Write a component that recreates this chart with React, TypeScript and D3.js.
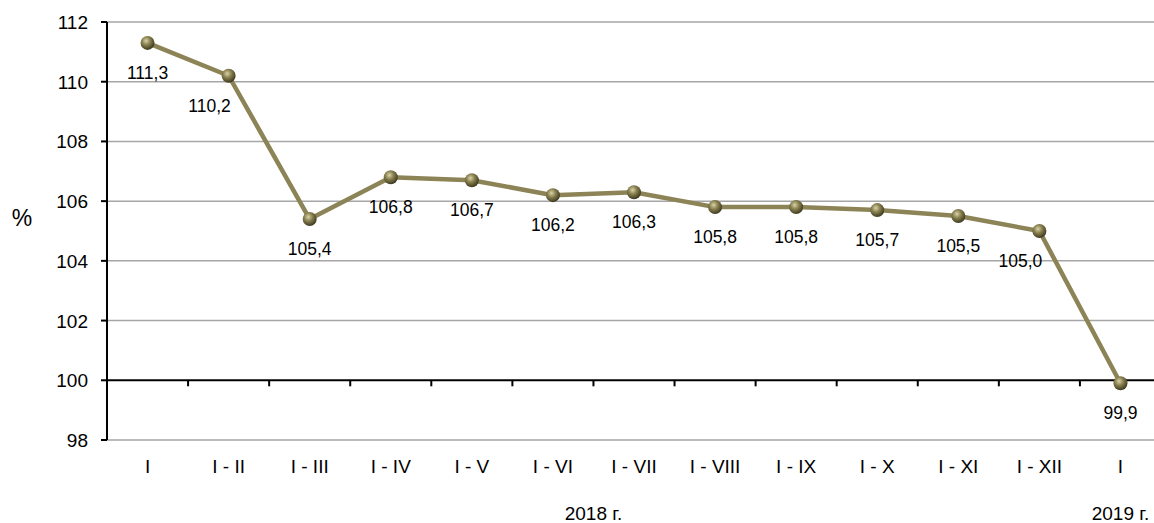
import React from "react";
import * as d3 from "d3";

const width = 1154;
const height = 523;

const categories = ["I", "I - II", "I - III", "I - IV", "I - V", "I - VI", "I - VII", "I - VIII", "I - IX", "I - X", "I - XI", "I - XII", "I "];
const values = [111.3, 110.2, 105.4, 106.8, 106.7, 106.2, 106.3, 105.8, 105.8, 105.7, 105.5, 105.0, 99.9];
const yTicks = [98, 100, 102, 104, 106, 108, 110, 112];
const yearLabels = [
  { text: "2018 г.", from: 0, to: 11 },
  { text: "2019 г.", from: 12, to: 12 },
];

const margin = { top: 22, right: -7, bottom: 83, left: 107 };
const font = "'Liberation Sans', Arial, sans-serif";
const lineColor = "#8c8456";

const App = () => {
  const x = d3
    .scaleBand()
    .domain(categories)
    .range([margin.left, width - margin.right]);
  const y = d3
    .scaleLinear()
    .domain([98, 112])
    .range([height - margin.bottom, margin.top]);

  const cx = (i) => x(categories[i]) + x.bandwidth() / 2;
  const line = d3
    .line()
    .x((d, i) => cx(i))
    .y((d) => y(d));

  const fmt = (v) => v.toFixed(1).replace(".", ",");
  const baseY = y(100);

  return (
    <svg width={width} height={height} style={{ position: "absolute", left: 0, top: 0 }}>
      <defs>
        <radialGradient id="ball" cx="40%" cy="35%" r="65%">
          <stop offset="0%" stopColor="#d9d3a8" />
          <stop offset="45%" stopColor="#8a8150" />
          <stop offset="100%" stopColor="#3e3a20" />
        </radialGradient>
      </defs>

      {yTicks.map((t) => (
        <g key={t}>
          {t !== 100 && (
            <line x1={margin.left} x2={width} y1={y(t)} y2={y(t)} stroke="#a6a6a6" strokeWidth={1.5} />
          )}
          <line x1={margin.left - 6} x2={margin.left} y1={y(t)} y2={y(t)} stroke="#000" strokeWidth={2} />
          <text x={margin.left - 19} y={y(t) + 7} textAnchor="end" fontFamily={font} fontSize={19}>
            {t}
          </text>
        </g>
      ))}

      <line x1={margin.left} x2={width} y1={baseY} y2={baseY} stroke="#000" strokeWidth={2} />
      {categories.slice(1).map((c) => (
        <line key={c} x1={x(c)} x2={x(c)} y1={baseY} y2={baseY + 6} stroke="#000" strokeWidth={2} />
      ))}
      <line x1={margin.left} x2={margin.left} y1={y(112)} y2={y(98)} stroke="#000" strokeWidth={2} />

      {categories.map((c, i) => (
        <text key={c} x={cx(i)} y={y(98) + 33} textAnchor="middle" fontFamily={font} fontSize={19}>
          {c.trim()}
        </text>
      ))}

      {yearLabels.map((g) => (
        <text
          key={g.text}
          x={(cx(g.from) + cx(g.to)) / 2}
          y={height - 3}
          textAnchor="middle"
          fontFamily={font}
          fontSize={19}
        >
          {g.text}
        </text>
      ))}

      <text x={22} y={y(106) + 25} textAnchor="middle" fontFamily={font} fontSize={23}>
        %
      </text>

      <path d={line(values)} fill="none" stroke={lineColor} strokeWidth={4.5} strokeLinejoin="round" />

      {values.map((v, i) => (
        <circle key={i} cx={cx(i)} cy={y(v)} r={7} fill="url(#ball)" />
      ))}

      {values.map((v, i) => {
        const next = values[i + 1];
        const shift = next !== undefined && v - next > 3 ? -19 : 0;
        return (
          <text
            key={i}
            x={cx(i) + shift}
            y={y(v) + 36}
            textAnchor="middle"
            fontFamily={font}
            fontSize={17.5}
          >
            {fmt(v)}
          </text>
        );
      })}
    </svg>
  );
};

export default App;
